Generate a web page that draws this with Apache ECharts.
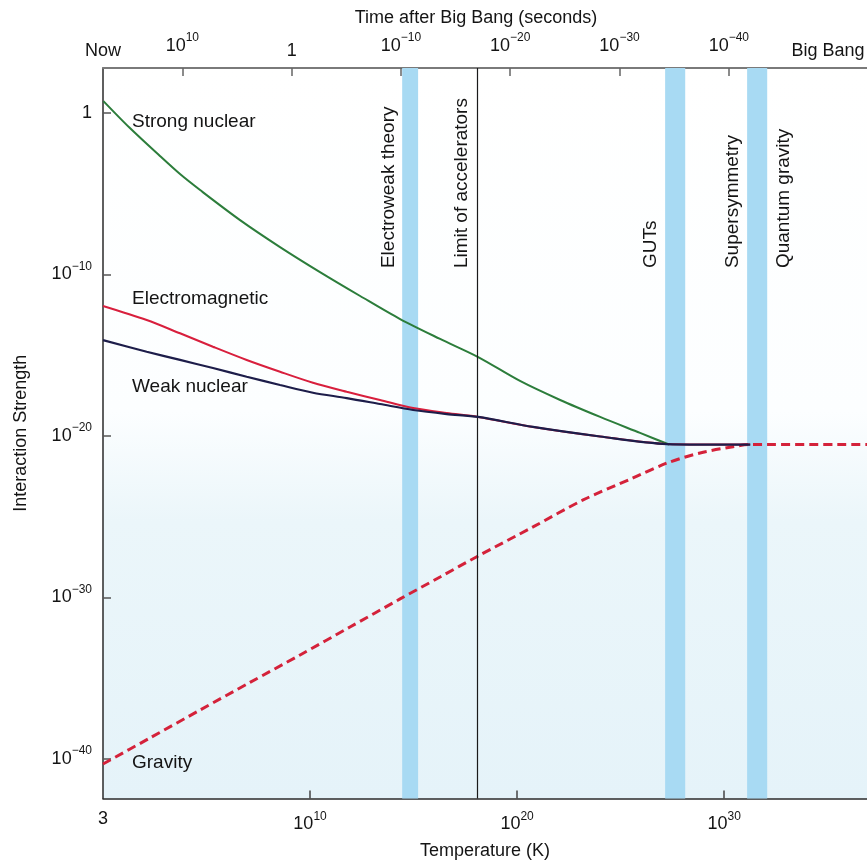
<!DOCTYPE html>
<html>
<head>
<meta charset="utf-8">
<title>Interaction strength of the four forces</title>
<script src="https://cdn.jsdelivr.net/npm/echarts@6/dist/echarts.min.js"></script>
<style>
  html, body { margin: 0; padding: 0; background: #ffffff; }
  #chart { width: 867px; height: 866px; }
</style>
</head>
<body>
<div id="chart"></div>
<script>
// All values are base-10 exponents: log10(T / K) on x, log10(strength) on y.
const strongLogT = [0.02, 1.30, 2.75, 3.72, 4.69, 6.62, 8.55, 10.48, 12.42, 14.35, 16.28, 18.12, 20.14, 22.08, 24.01, 25.94, 27.34];
const strongLogS = [0.74, -0.93, -2.66, -3.78, -4.77, -6.63, -8.30, -9.85, -11.33, -12.76, -13.99, -15.11, -16.59, -17.77, -18.82, -19.81, -20.53];

const emLogT = [0, 2.11, 3.72, 5.31, 6.94, 8.55, 10.14, 11.77, 13.38, 14.98, 16.60, 18.12, 20.77, 24.01, 27.23, 28.84, 31.26];
const emLogS = [-11.95, -12.82, -13.64, -14.47, -15.29, -16.02, -16.70, -17.26, -17.77, -18.27, -18.58, -18.82, -19.44, -20.03, -20.50, -20.53, -20.53];

const weakLogT = [0, 2.11, 3.72, 5.31, 6.94, 8.55, 10.14, 11.77, 13.38, 14.98, 16.60, 18.12, 20.77, 24.01, 27.23, 28.84, 31.26];
const weakLogS = [-14.06, -14.78, -15.29, -15.79, -16.33, -16.84, -17.32, -17.65, -18.02, -18.39, -18.64, -18.82, -19.44, -20.03, -20.50, -20.53, -20.53];

const gravityLogT = [0, 2.27, 4.69, 7.10, 9.52, 11.93, 14.35, 16.28, 18.12, 20.77, 23.19, 25.60, 27.25, 28.84, 30.43, 31.26, 36.9];
const gravityLogS = [-40.31, -38.70, -36.97, -35.26, -33.56, -31.83, -30.09, -28.73, -27.43, -25.63, -23.96, -22.60, -21.67, -21.05, -20.66, -20.53, -20.53];

// Energy regimes (temperature ranges, log10 K)
const bandStart = [14.45, 27.15, 31.11];
const bandEnd = [15.22, 28.12, 32.08];
const acceleratorLimit = 18.09;

// Vertical captions
const captionText = ['Electroweak theory', 'Limit of accelerators', 'GUTs', 'Supersymmetry', 'Quantum gravity'];
const captionLogT = [13.82, 17.34, 26.48, 30.44, 32.90];
const captionBaseLogS = -9.6;

// Curve names
const curveText = ['Strong nuclear', 'Electromagnetic', 'Weak nuclear', 'Gravity'];
const curveLabelLogT = [1.40, 1.40, 1.40, 1.40];
const curveLabelLogS = [-0.56, -11.52, -16.97, -40.25];

// Tick positions
const tempTicks = [0, 10, 20, 30];
const strengthTicks = [0, -10, -20, -30, -40];
const timeTicks = [10, 0, -10, -20, -30, -40];
const timeNow = 17.26;       // log10 of the present age in seconds
const timeBigBang = -49.07;  // position of the "Big Bang" caption

const FONT = "'Liberation Sans', Arial, Helvetica, sans-serif";
const TXT = '#141414';

const zip = (xs, ys) => xs.map((x, i) => [x, ys[i]]);

const rich = {
  b: { fontSize: 18, fontFamily: FONT, color: TXT },
  s: { fontSize: 12, fontFamily: FONT, color: TXT, padding: [0, 0, 16, 0] }
};
const near = (a, b) => Math.abs(a - b) < 1e-6;

const chart = echarts.init(document.getElementById('chart'), null, { renderer: 'canvas' });

const option = {
  backgroundColor: '#ffffff',
  animation: false,
  grid: {
    left: 103, top: 68, width: 764, height: 730.5,
    containLabel: false, outerBoundsMode: 'none',
    show: true, borderWidth: 0,
    backgroundColor: {
      type: 'linear', x: 0, y: 0, x2: 0, y2: 1,
      colorStops: [
        { offset: 0, color: '#ffffff' },
        { offset: 0.47, color: '#fcfeff' },
        { offset: 0.62, color: '#ebf6fa' },
        { offset: 1, color: '#e5f3f9' }
      ]
    }
  },
  xAxis: [
    {
      type: 'value', position: 'bottom', min: 0, max: 36.9,
      name: 'Temperature (K)', nameLocation: 'middle', nameGap: 44,
      nameTextStyle: { fontSize: 18, fontFamily: FONT, color: TXT },
      axisLine: { show: true, onZero: false, lineStyle: { color: '#2a2a2a', width: 1.5 } },
      axisTick: { show: true, inside: true, length: 8, customValues: tempTicks.slice(1), lineStyle: { color: '#444', width: 1.5 } },
      axisLabel: {
        show: true, margin: 12, customValues: tempTicks, color: TXT, fontSize: 18, fontFamily: FONT,
        formatter: v => near(v, 0) ? '3' : '{b|10}{s|' + Math.round(v) + '}',
        rich: rich
      },
      splitLine: { show: false }
    },
    {
      type: 'value', position: 'top', inverse: true, min: -52.64, max: timeNow,
      name: 'Time after Big Bang (seconds)', nameLocation: 'middle', nameGap: 41,
      nameTextStyle: { fontSize: 18, fontFamily: FONT, color: TXT, padding: [0, 18, 0, 0] },
      axisLine: { show: true, onZero: false, lineStyle: { color: '#7a7a7a', width: 2 } },
      axisTick: { show: true, inside: true, length: 8, customValues: timeTicks, lineStyle: { color: '#666', width: 1.5 } },
      axisLabel: {
        show: true, margin: 8, customValues: [timeNow].concat(timeTicks, [timeBigBang]),
        color: TXT, fontSize: 18, fontFamily: FONT,
        formatter: v => {
          if (near(v, timeNow)) return 'Now';
          if (near(v, timeBigBang)) return 'Big Bang';
          if (near(v, 0)) return '1';
          const e = Math.round(v);
          return '{b|10}{s|' + (e < 0 ? '\u2212' + (-e) : e) + '}';
        },
        rich: rich
      },
      splitLine: { show: false }
    }
  ],
  yAxis: {
    type: 'value', min: -42.45, max: 2.79,
    name: 'Interaction Strength', nameLocation: 'middle', nameGap: 73, nameRotate: 90,
    nameTextStyle: { fontSize: 18, fontFamily: FONT, color: TXT },
    axisLine: { show: true, onZero: false, lineStyle: { color: '#2a2a2a', width: 1.5 } },
    axisTick: { show: true, inside: true, length: 8, customValues: strengthTicks, lineStyle: { color: '#555', width: 1.5 } },
    axisLabel: {
      show: true, margin: 11, customValues: strengthTicks, color: TXT, fontSize: 18, fontFamily: FONT,
      formatter: v => near(v, 0) ? '1' : '{b|10}{s|\u2212' + Math.round(-v) + '}',
      rich: rich
    },
    splitLine: { show: false }
  },
  series: [
    {
      // energy regimes and accelerator limit
      type: 'line', data: [], z: 1, silent: true,
      markArea: {
        silent: true,
        itemStyle: { color: '#a8daf3' },
        data: bandStart.map((s, i) => [{ xAxis: s }, { xAxis: bandEnd[i] }])
      },
      markLine: {
        silent: true, symbol: 'none', label: { show: false },
        lineStyle: { color: '#1a1a1a', width: 1.2, type: 'solid' },
        data: [{ xAxis: acceleratorLimit }]
      }
    },
    {
      name: 'Gravity', type: 'line', z: 3, showSymbol: false, smooth: 0.3,
      data: zip(gravityLogT, gravityLogS),
      lineStyle: { color: '#d4223a', width: 3, type: [9, 5] }
    },
    {
      name: 'Strong nuclear', type: 'line', z: 4, showSymbol: false, smooth: 0.3,
      data: zip(strongLogT, strongLogS),
      lineStyle: { color: '#2c7d3b', width: 2 }
    },
    {
      name: 'Electromagnetic', type: 'line', z: 4, showSymbol: false, smooth: 0.3,
      data: zip(emLogT, emLogS),
      lineStyle: { color: '#d81f3d', width: 2 }
    },
    {
      name: 'Weak nuclear', type: 'line', z: 5, showSymbol: false, smooth: 0.3,
      data: zip(weakLogT, weakLogS),
      lineStyle: { color: '#1d1d4a', width: 2.2 }
    },
    {
      // curve names
      type: 'scatter', symbolSize: 0, z: 6, silent: true,
      itemStyle: { opacity: 1 },
      data: curveText.map((t, i) => ({ value: [curveLabelLogT[i], curveLabelLogS[i]], name: t })),
      label: {
        show: true, position: 'right', distance: 0, formatter: p => p.name,
        color: TXT, opacity: 1, fontSize: 19, fontFamily: FONT
      }
    },
    {
      // vertical captions
      type: 'scatter', symbolSize: 0, z: 6, silent: true,
      itemStyle: { opacity: 1 },
      data: captionText.map((t, i) => ({ value: [captionLogT[i], captionBaseLogS], name: t })),
      label: {
        show: true, position: 'right', distance: 0, rotate: 90, align: 'left', verticalAlign: 'middle',
        formatter: p => p.name, color: TXT, opacity: 1, fontSize: 19, fontFamily: FONT
      }
    }
  ]
};

chart.setOption(option);
</script>
</body>
</html>
